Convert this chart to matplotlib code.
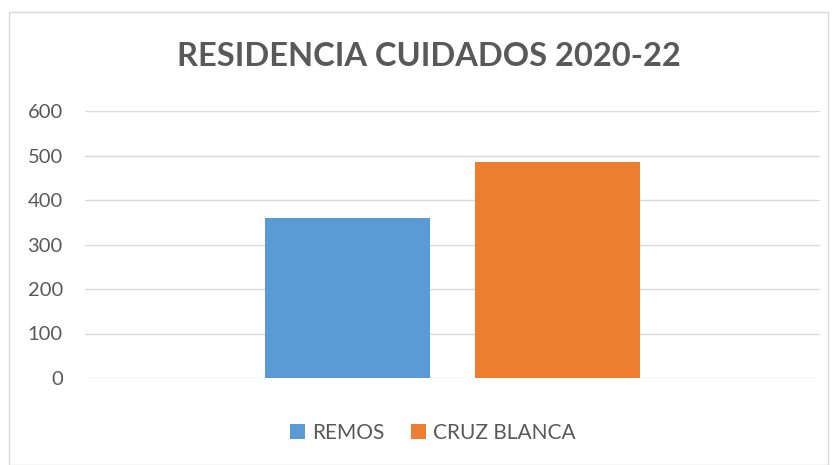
import matplotlib.pyplot as plt
from matplotlib.patches import Rectangle

# data
series = ["REMOS", "CRUZ BLANCA"]
values = [360, 485]
colors = ["#5B9BD5", "#ED7D31"]
yticks = [0, 100, 200, 300, 400, 500, 600]

plt.rcParams['font.family'] = ['Lato', 'DejaVu Sans']
text_gray = "#595959"

fig = plt.figure(figsize=(8.37, 4.65), dpi=100)
ax = fig.add_axes([85 / 837, 1 - 378 / 465, 735 / 837, 267 / 465])

# chart frame
fig.patches.append(Rectangle((9 / 837, 0), 819 / 837, 453 / 465, transform=fig.transFigure,
                             fill=False, edgecolor="#D9D9D9", linewidth=1))

width = 0.2245
gap = 0.0612
for i, (name, v, c) in enumerate(zip(series, values, colors)):
    x = 0.5 + (i - 0.5) * (width + gap)
    ax.bar(x, v, width=width, color=c, label=name, zorder=3)

ax.set_xlim(0, 1)
ax.set_ylim(0, 600)
ax.set_yticks(yticks)
ax.set_xticks([])
ax.grid(axis='y', color="#D9D9D9", linewidth=1, zorder=0)
for s in ax.spines.values():
    s.set_visible(False)
ax.tick_params(axis='y', length=0, pad=16, labelsize=14.5, labelcolor=text_gray)

fig.text(429 / 837, 1 - 56 / 465, "RESIDENCIA CUIDADOS 2020-22", ha='center', va='center',
         fontsize=23.5, fontweight='bold', color=text_gray)

fig.legend(loc='center', bbox_to_anchor=(433 / 837, 1 - 433 / 465), ncol=2, frameon=False,
           fontsize=15, labelcolor=text_gray, handlelength=0.7, handleheight=0.7,
           handletextpad=0.35, columnspacing=1.3)

fig.savefig("out.png", dpi=100)
